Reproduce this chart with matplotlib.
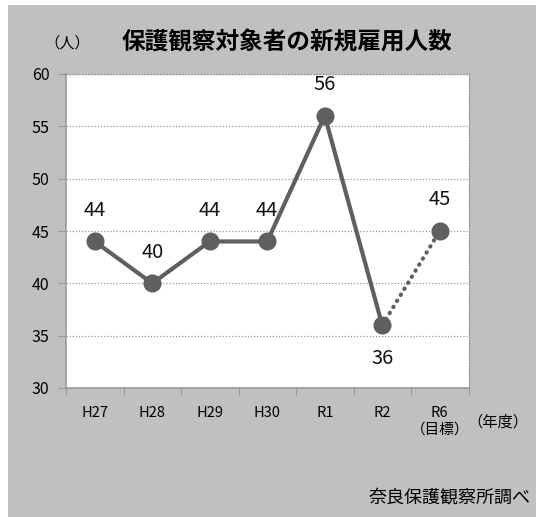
import matplotlib.pyplot as plt
from matplotlib.patches import Rectangle

plt.rcParams['font.family'] = ['Noto Sans CJK JP', 'DejaVu Sans']

years = ['H27', 'H28', 'H29', 'H30', 'R1', 'R2', 'R6\n（目標）']
actual = [44, 40, 44, 44, 56, 36]
target = 45

line_color = '#5f5f5f'
panel_color = '#c0c0c0'

fig = plt.figure(figsize=(5.36, 5.17), dpi=100, facecolor='white')
fig.patches.append(Rectangle((8 / 536, 0), 1 - 8 / 536, 512 / 517,
                             transform=fig.transFigure, facecolor=panel_color,
                             edgecolor='none', zorder=-10))

ax = fig.add_axes([66 / 536, 129 / 517, 402.5 / 536, 314 / 517])
ax.set_facecolor('white')

x_actual = list(range(len(actual)))
x_target = len(years) - 1

# actual results, then the dotted part up to the target year
ax.plot(x_actual, actual, color=line_color, lw=3, marker='o', ms=12, zorder=3)
ax.plot([x_actual[-1], x_target], [actual[-1], target], color=line_color, lw=3,
        linestyle=(0, (0.1, 1.6)), dash_capstyle='round', zorder=2)
ax.plot([x_target], [target], color=line_color, marker='o', ms=12, zorder=3)

for x, v in zip(x_actual + [x_target], actual + [target]):
    dy = -24 if x == 5 else 22.5
    ax.annotate(str(v), (x, v), xytext=(0, dy), textcoords='offset points',
                ha='center', va='center', fontsize=14.5, color='#111111')

ax.set_xlim(-0.5, 6.5)
ax.set_ylim(30, 60)
ax.set_yticks(range(30, 61, 5))
ax.set_xticks([i - 0.5 for i in range(len(years) + 1)])
ax.set_xticklabels([])
ax.set_xticks(range(len(years)), minor=True)
ax.set_xticklabels(years, minor=True, fontsize=10.5)
ax.tick_params(axis='x', which='major', length=5, color='#999999', direction='out')
ax.tick_params(axis='x', which='minor', length=0, pad=13)
ax.tick_params(axis='y', length=6, color='#999999', labelsize=11.5, pad=6)

ax.grid(axis='y', linestyle=(0, (1, 1.5)), color='#999999', lw=0.9)
ax.set_axisbelow(True)
for side in ['top', 'right']:
    ax.spines[side].set_linestyle((0, (1, 1.5)))
    ax.spines[side].set_color('#999999')
    ax.spines[side].set_linewidth(0.9)
for side in ['left', 'bottom']:
    ax.spines[side].set_color('#999999')
    ax.spines[side].set_linewidth(1.2)

fig.text(67 / 536, 1 - 43 / 517, '（人）', ha='center', va='center', fontsize=11)
fig.text(287 / 536, 1 - 43 / 517, '保護観察対象者の新規雇用人数', ha='center',
         va='center', fontsize=17, fontweight='bold')
fig.text(467 / 536, 1 - 422 / 517, '（年度）', ha='left', va='center', fontsize=11)
fig.text(531 / 536, 1 - 498 / 517, '奈良保護観察所調べ', ha='right', va='center',
         fontsize=13)

fig.savefig('out.png', dpi=100, facecolor=fig.get_facecolor())
